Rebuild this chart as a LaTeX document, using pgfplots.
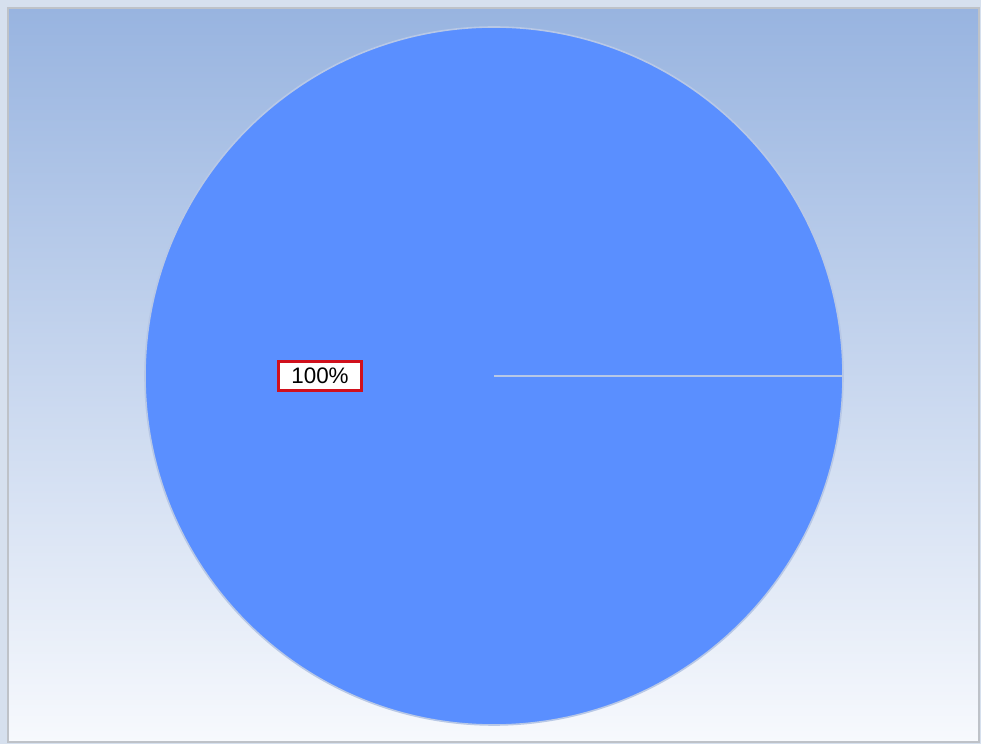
\documentclass[border=0pt]{standalone}
\usepackage{pgfplots}
\usepackage{pgfplotstable}
\pgfplotsset{compat=1.18}
\usetikzlibrary{calc}
\usepackage{fontspec}
\setmainfont{Liberation Sans}

\definecolor{outerbg}{HTML}{D6E0EE}
\definecolor{topbg}{HTML}{98B4E0}
\definecolor{botbg}{HTML}{F7F9FD}
\definecolor{slice}{HTML}{5A8FFF}
\definecolor{edge}{HTML}{B8C8E6}
\definecolor{frame}{HTML}{BEC2C8}
\definecolor{labelred}{HTML}{D0101C}

% one slice: share of the whole
\pgfplotstableread{
label value
A 100
}\piedata

\begin{document}
\begin{tikzpicture}
\begin{axis}[
    scale only axis,
    width=981bp, height=744bp,
    xmin=0, xmax=981, ymin=0, ymax=744,
    hide axis,
    clip=false,
]
% background panel
\fill[outerbg] (axis cs:0,0) rectangle (axis cs:981,744);
\shade[top color=topbg, bottom color=botbg] (axis cs:8,2) rectangle (axis cs:979,736);
\draw[frame, line width=2.2bp] (axis cs:8,2) rectangle (axis cs:979,736);

% pie from table
\pgfplotstablegetelem{0}{value}\of\piedata
\let\slicevalue\pgfplotsretval
\pgfmathsetmacro{\sliceangle}{3.6*\slicevalue}
\pgfmathsetmacro{\midangle}{\sliceangle/2}
\filldraw[fill=slice, draw=edge, line width=1.6bp]
    (axis cs:494,368) -- ++(0:349bp)
    arc[start angle=0, end angle=\sliceangle, radius=349bp] -- cycle;
\node[draw=labelred, fill=white, line width=2.2bp,
      minimum width=83bp, minimum height=29bp, inner sep=0pt,
      font=\fontsize{22.5}{26}\selectfont]
    at ($(axis cs:494,368)+(\midangle:174bp)$) {\slicevalue\%};
\end{axis}
\end{tikzpicture}
\end{document}
